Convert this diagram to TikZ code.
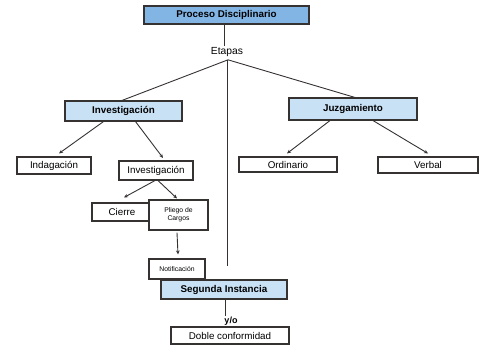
\documentclass[tikz,border=0pt]{standalone}
\usepackage{fontspec}
\setmainfont{Liberation Sans}
\usetikzlibrary{arrows.meta}
\definecolor{midblue}{RGB}{130,180,228}
\definecolor{lightblue}{RGB}{200,225,245}
\definecolor{edge}{RGB}{55,50,50}
\tikzset{
  box/.style={draw=edge, line width=1.1pt, fill=white, inner sep=1pt, align=center, font=\fontsize{9.8}{10}\selectfont},
  bluebox/.style={box, fill=lightblue, font=\bfseries\fontsize{9.8}{10}\selectfont},
  tiny/.style={box, font=\fontsize{6.8}{8}\selectfont},
  conn/.style={draw=edge, line width=0.9pt},
  arr/.style={conn, -{Stealth[length=4pt,width=3.6pt]}}
}
\begin{document}
\begin{tikzpicture}[x=1pt,y=-1pt]
\useasboundingbox (0,0) rectangle (480,362);
\node[bluebox, fill=midblue, minimum width=165pt, minimum height=18pt] (proc) at (226.5,15) {Proceso Disciplinario};
\node[font=\fontsize{10.3}{11}\selectfont, inner sep=1pt] (etapas) at (227,52) {Etapas};
\node[bluebox, minimum width=117pt, minimum height=20pt] (inv) at (123.5,111) {Investigación};
\node[bluebox, minimum width=128pt, minimum height=22pt] (juz) at (353,109) {Juzgamiento};
\node[box, minimum width=74pt, minimum height=17pt] (inda) at (54,165.5) {Indagación};
\node[box, minimum width=74pt, minimum height=19pt] (inv2) at (156,170.5) {Investigación};
\node[box, minimum width=60pt, minimum height=18pt] (cierre) at (122,212) {Cierre};
\node[tiny, minimum width=59pt, minimum height=30pt] (pliego) at (178.5,215) {Pliego de\\Cargos};
\node[tiny, minimum width=56pt, minimum height=20pt] (notif) at (177,269) {Notificación};
\node[bluebox, minimum width=126pt, minimum height=19pt] (seg) at (224,289.5) {Segunda Instancia};
\node[font=\bfseries\fontsize{9}{10}\selectfont, inner sep=1pt] (yo) at (231,321) {y/o};
\node[box, minimum width=118pt, minimum height=17pt] (doble) at (230,335.5) {Doble conformidad};
\node[box, minimum width=98pt, minimum height=15pt] (ord) at (288,164.5) {Ordinario};
\node[box, minimum width=100pt, minimum height=16pt] (verb) at (428,165) {Verbal};
\coordinate (vend) at (227,266);
% connectors
\draw[conn] ([xshift=-2.5pt]proc.south) -- ([xshift=-3pt]etapas.north);
\draw[conn] ([xshift=1pt,yshift=-2pt]etapas.south) -- ([xshift=-1.5pt]inv.north);
\draw[conn] ([xshift=1pt,yshift=-2pt]etapas.south) -- ([xshift=2pt]juz.north);
\draw[conn] ([yshift=-2pt]etapas.south) -- (vend);
\draw[arr] ([xshift=-20pt]inv.south) -- ([xshift=5pt,yshift=3pt]inda.north);
\draw[arr] ([xshift=12pt]inv.south) -- ([xshift=7pt,yshift=2.5pt]inv2.north);
\draw[arr] ([xshift=-23pt]juz.south) -- ([xshift=-1pt,yshift=3pt]ord.north);
\draw[arr] ([xshift=20pt]juz.south) -- ([xshift=0pt,yshift=3pt]verb.north);
\draw[arr] ([xshift=-1pt]inv2.south) -- ([xshift=2pt,yshift=5pt]cierre.north);
\draw[arr] ([xshift=2pt]inv2.south) -- ([xshift=-1.5pt,yshift=1pt]pliego.north);
\draw[arr] ([xshift=-1.5pt,yshift=-2pt]pliego.south) -- ([xshift=1pt,yshift=4pt]notif.north);
\draw[conn] ([xshift=1pt]seg.south) -- ([xshift=-6pt]yo.north);
\end{tikzpicture}
\end{document}
